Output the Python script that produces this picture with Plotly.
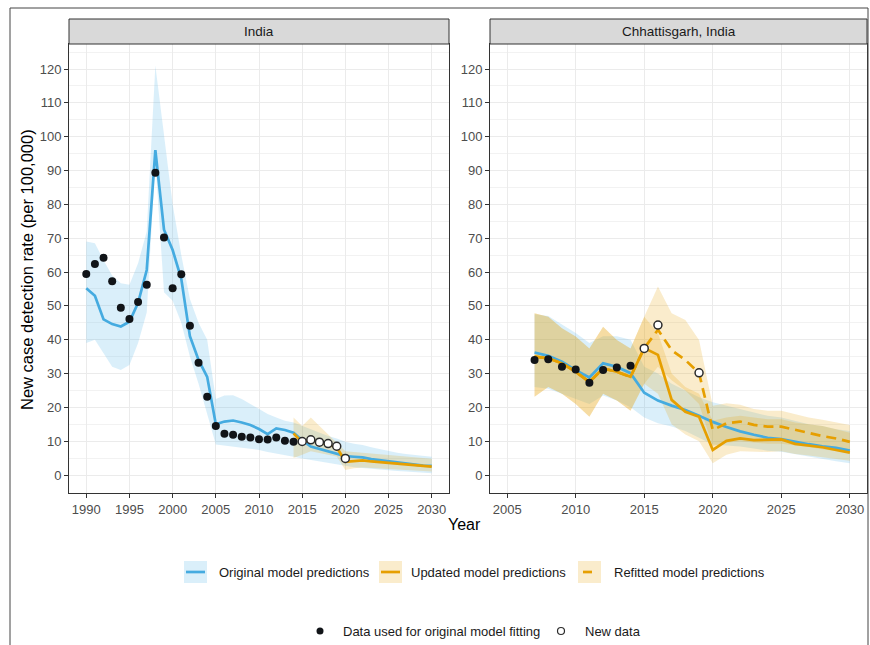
import plotly.graph_objects as go

W, H = 870, 645
def fx(px): return px / W
def fy(py): return 1 - py / H

# ---------------- India ----------------
india_years = list(range(1990, 2031))
india_orig = [55.2, 53.0, 46.0, 44.6, 43.9, 45.3, 50.9, 60.6, 96.0, 72.5,
              66.5, 58.0, 41.0, 34.0, 29.0, 15.0, 15.8, 16.1, 15.5, 14.8,
              13.6, 12.1, 13.8, 13.3, 12.5, 10.3, 8.4, 7.7, 7.2, 6.4,
              5.6, 5.4, 5.2, 4.7, 4.4, 3.9, 3.6, 3.3, 3.0, 2.8, 2.7]
india_orig_hi = [69, 68.5, 63.5, 59, 56.7, 56.2, 62.6, 72, 121, 100,
                 80, 65, 52, 45, 40, 22.5, 23.5, 23.6, 22.5, 21,
                 19.5, 18, 17, 16, 15.5, 14.5, 13.3, 12.5, 11.5, 10.8,
                 9.8, 9.2, 8.9, 8.2, 7.6, 7.0, 6.6, 6.2, 5.9, 5.6, 5.4]
india_orig_lo = [39, 40, 36, 32, 31, 32.5, 39, 48, 93, 54,
                 51.5, 45, 35, 27, 18, 9, 8.6, 8.4, 8, 7.7,
                 7.4, 6.8, 6.3, 5.8, 5.4, 4.9, 4.4, 4.0, 3.5, 3.1,
                 2.7, 2.3, 2.0, 1.8, 1.6, 1.4, 1.2, 1.0, 0.8, 0.6, 0.5]
india_upd_years = list(range(2014, 2031))
india_upd = [12.3, 9.6, 10.4, 9.6, 8.9, 8.2, 3.9, 4.1, 4.3, 4.0, 3.8, 3.6, 3.4, 3.2, 3.0, 2.7, 2.5]
india_upd_hi = [17, 14.5, 17, 14.5, 12, 9.5, 7, 6.8, 6.6, 6.4, 6.2, 6, 5.8, 5.5, 5.2, 5, 4.8]
india_upd_lo = [5, 6, 7, 6.5, 6, 5.5, 1.5, 2, 2.2, 2, 1.9, 1.8, 1.6, 1.4, 1.3, 1.1, 1.0]
india_data_years = list(range(1990, 2015))
india_data = [59.4, 62.4, 64.2, 57.3, 49.4, 46.1, 51.1, 56.2, 89.3, 70.2,
              55.2, 59.3, 44.1, 33.2, 23.1, 14.5, 12.2, 11.9, 11.3, 11.1,
              10.6, 10.5, 11.1, 10.1, 9.8]
india_new_years = list(range(2015, 2021))
india_new = [9.9, 10.4, 9.7, 9.3, 8.5, 4.9]

# ---------------- Chhattisgarh ----------------
chh_years = list(range(2007, 2031))
chh_orig = [36.2, 35.2, 33.5, 31.0, 28.8, 33.0, 32.0, 30.1, 24.3, 22.0,
            20.5, 19.2, 17.5, 15.7, 14.2, 12.9, 11.9, 11.0, 10.6, 9.8,
            9.1, 8.5, 8.0, 7.2]
chh_orig_hi = [47.5, 47, 44.5, 42, 39, 41, 41, 40, 32, 30,
               27, 25, 23, 21.5, 20.5, 19.5, 18.5, 17.5, 17, 16,
               15, 14.5, 13.5, 13]
chh_orig_lo = [26, 25.5, 24, 22.5, 21, 23.5, 22, 20, 17, 15.3,
               14.3, 13, 11, 9, 8.7, 8.4, 7.8, 7.2, 6.9, 6.2,
               5.4, 4.8, 4.1, 3.5]
chh_upd = [35, 34.5, 33.0, 30.5, 27.5, 31.5, 30.5, 29.0, 37.5, 35.5,
           22.2, 18.7, 17.2, 7.4, 10.1, 10.8, 10.3, 10.3, 10.5, 9.2,
           8.7, 8.2, 7.4, 6.6]
chh_upd_hi = [47.8, 46.8, 43.4, 40.9, 37.4, 43.8, 39.9, 37.4, 46.8, 42,
              30, 26, 24, 16, 17, 17.5, 17, 16.5, 16.5, 15.5,
              15, 14.5, 13.5, 12.5]
chh_upd_lo = [23.1, 26, 24, 21, 17.2, 24, 22, 19, 27, 24,
              15, 12, 10, 3.5, 6, 7, 6.8, 6.8, 7, 6.2,
              5.8, 5.4, 4.8, 4.2]
chh_ref = [35, 34.5, 33.0, 30.5, 27.5, 31.5, 30.5, 29.0, 37.5, 42.9,
           36.9, 34.0, 30.1, 13.3, 15.3, 15.8, 14.8, 14.3, 14.3, 13.3,
           12.5, 11.5, 10.8, 9.8]
chh_ref_hi = [47.8, 46.8, 43.4, 40.9, 37.4, 43.8, 39.9, 37.4, 46.8, 55.7,
              47.8, 45.8, 39.9, 20.5, 21.2, 20.8, 19.5, 19, 19, 18,
              17, 16.3, 15.5, 14.8]
chh_ref_lo = [23.1, 26, 24, 21, 17.2, 24, 22, 19, 27, 32,
              28, 25, 21, 8.5, 9.5, 10, 9.5, 9.2, 9.2, 8.8,
              8.3, 7.6, 7.0, 6.5]
chh_data_years = list(range(2007, 2015))
chh_data = [34.0, 34.2, 32.0, 31.2, 27.3, 31.0, 31.8, 32.3]
chh_new_years = [2015, 2016, 2019]
chh_new = [37.4, 44.3, 30.2]

panel_titles = ["India", "Chhattisgarh, India"]
legend_labels = ["Original model predictions", "Updated model predictions",
                 "Refitted model predictions"]
legend2_labels = ["Data used for original model fitting", "New data"]

BLUE = "#45ABE0"
ORANGE = "#E69F00"
BLUE_FILL = "rgba(86,180,233,0.22)"
ORANGE_FILL = "rgba(230,159,0,0.2)"
DOT = "#111418"
FONT = "Liberation Sans, Arial, sans-serif"

fig = go.Figure()

def band(xs, lo, hi, color, xa, ya):
    fig.add_trace(go.Scatter(x=xs + xs[::-1], y=hi + lo[::-1], fill="toself",
                             fillcolor=color, line=dict(width=0), mode="lines",
                             hoverinfo="skip", showlegend=False, xaxis=xa, yaxis=ya))

def line(xs, ys, color, xa, ya, dash="solid"):
    fig.add_trace(go.Scatter(x=xs, y=ys, mode="lines",
                             line=dict(color=color, width=2.7, dash=dash),
                             showlegend=False, xaxis=xa, yaxis=ya))

def pts(xs, ys, xa, ya, hollow=False):
    if hollow:
        m = dict(size=8, color="white", line=dict(color="#2b2b2b", width=1.5))
    else:
        m = dict(size=8, color=DOT, line=dict(width=0))
    fig.add_trace(go.Scatter(x=xs, y=ys, mode="markers", marker=m,
                             showlegend=False, xaxis=xa, yaxis=ya))

# India panel
band(india_years, india_orig_lo, india_orig_hi, BLUE_FILL, "x", "y")
band(india_upd_years, india_upd_lo, india_upd_hi, ORANGE_FILL, "x", "y")
line(india_years, india_orig, BLUE, "x", "y")
line(india_upd_years, india_upd, ORANGE, "x", "y")
pts(india_data_years, india_data, "x", "y")
pts(india_new_years, india_new, "x", "y", hollow=True)

# Chhattisgarh panel
band(chh_years, chh_orig_lo, chh_orig_hi, BLUE_FILL, "x2", "y2")
band(chh_years, chh_upd_lo, chh_upd_hi, ORANGE_FILL, "x2", "y2")
band(chh_years, chh_ref_lo, chh_ref_hi, ORANGE_FILL, "x2", "y2")
line(chh_years, chh_orig, BLUE, "x2", "y2")
line(chh_years, chh_upd, ORANGE, "x2", "y2")
line(chh_years, chh_ref, ORANGE, "x2", "y2", dash="10px,6px")
pts(chh_data_years, chh_data, "x2", "y2")
pts(chh_new_years, chh_new, "x2", "y2", hollow=True)

yrange = [-5.32, 127.39]
common_ax = dict(showgrid=True, gridcolor="#EBEBEB", gridwidth=1, zeroline=False,
                 showline=True, mirror=True, linecolor="#333333", linewidth=1,
                 ticks="outside", ticklen=4, tickcolor="#333333", tickwidth=1,
                 tickfont=dict(size=13, color="#4D4D4D", family=FONT))
yax = dict(common_ax, range=yrange, tickvals=list(range(0, 121, 10)),
           domain=[fy(493), fy(44)],
           minor=dict(tickvals=list(range(5, 126, 10)), showgrid=True,
                      gridcolor="#F2F2F2", gridwidth=0.6, ticks=""))

fig.update_layout(
    width=W, height=H, margin=dict(l=0, r=0, t=0, b=0),
    paper_bgcolor="white", plot_bgcolor="white", showlegend=False,
    font=dict(family=FONT, color="#1a1a1a"),
    xaxis=dict(common_ax, range=[1988, 2032], tickvals=list(range(1990, 2031, 5)),
               domain=[fx(69), fx(449)], anchor="y"),
    yaxis=dict(yax, anchor="x"),
    xaxis2=dict(common_ax, range=[2003.75, 2031.25], tickvals=list(range(2005, 2031, 5)),
                domain=[fx(490), fx(867)], anchor="y2"),
    yaxis2=dict(yax, anchor="x2"),
)

shapes = []
ann = []
# strips
for (x0, x1), title in zip([(69, 449), (490, 867)], panel_titles):
    shapes.append(dict(type="rect", xref="paper", yref="paper",
                       x0=fx(x0), x1=fx(x1), y0=fy(44), y1=fy(19),
                       fillcolor="#D9D9D9", line=dict(color="#333333", width=1)))
    ann.append(dict(text=title, xref="paper", yref="paper", x=fx((x0 + x1) / 2), y=fy(31.5),
                    showarrow=False, xanchor="center", yanchor="middle",
                    font=dict(size=13.5, color="#1A1A1A", family=FONT)))

# axis titles
ann.append(dict(text="New case detection rate (per 100,000)", xref="paper", yref="paper",
                x=fx(27), y=fy(270), textangle=-90, showarrow=False,
                xanchor="center", yanchor="middle", font=dict(size=16.5, color="black", family=FONT)))
ann.append(dict(text="Year", xref="paper", yref="paper", x=fx(464), y=fy(524),
                showarrow=False, xanchor="center", yanchor="middle",
                font=dict(size=16, color="black", family=FONT)))

# legend row 1
r1 = 572
keys = [(184, 217, BLUE, BLUE_FILL, None), (379, 409, ORANGE, ORANGE_FILL, None),
        (578, 612, ORANGE, ORANGE_FILL, "dash")]
for (kx, tx, lc, fc, dsh), lab in zip(keys, legend_labels):
    shapes.append(dict(type="rect", xref="paper", yref="paper", x0=fx(kx), x1=fx(kx + 23),
                       y0=fy(r1 + 11), y1=fy(r1 - 11), fillcolor=fc, line=dict(width=0)))
    if dsh:
        shapes.append(dict(type="line", xref="paper", yref="paper", x0=fx(kx + 5), x1=fx(kx + 14),
                           y0=fy(r1), y1=fy(r1), line=dict(color=lc, width=2.7)))
    else:
        shapes.append(dict(type="line", xref="paper", yref="paper", x0=fx(kx + 2), x1=fx(kx + 21),
                           y0=fy(r1), y1=fy(r1), line=dict(color=lc, width=2.7)))
    ann.append(dict(text=lab, xref="paper", yref="paper", x=fx(tx), y=fy(r1),
                    showarrow=False, xanchor="left", yanchor="middle",
                    font=dict(size=13, color="#1A1A1A", family=FONT)))

# legend row 2
r2 = 631
for (cx, tx, hollow), lab in zip([(320, 341, False), (561, 583, True)], legend2_labels):
    shapes.append(dict(type="circle", xref="paper", yref="paper", x0=fx(cx - 3.5), x1=fx(cx + 3.5),
                       y0=fy(r2 + 3.5), y1=fy(r2 - 3.5),
                       fillcolor="white" if hollow else DOT,
                       line=dict(color="#2b2b2b", width=1.2 if hollow else 0)))
    ann.append(dict(text=lab, xref="paper", yref="paper", x=fx(tx), y=fy(r2),
                    showarrow=False, xanchor="left", yanchor="middle",
                    font=dict(size=13, color="#1A1A1A", family=FONT)))

# outer frame
for x0, y0, x1, y1 in [(10, 8, 10, 645), (10, 8, 868, 8), (868, 8, 868, 645)]:
    shapes.append(dict(type="line", xref="paper", yref="paper", x0=fx(x0), x1=fx(x1),
                       y0=fy(y0), y1=fy(y1), line=dict(color="#444444", width=1)))

fig.update_layout(shapes=shapes, annotations=ann)
fig.write_html("out.html", config={"displayModeBar": False},
               post_script="document.body.style.margin='0px';")
